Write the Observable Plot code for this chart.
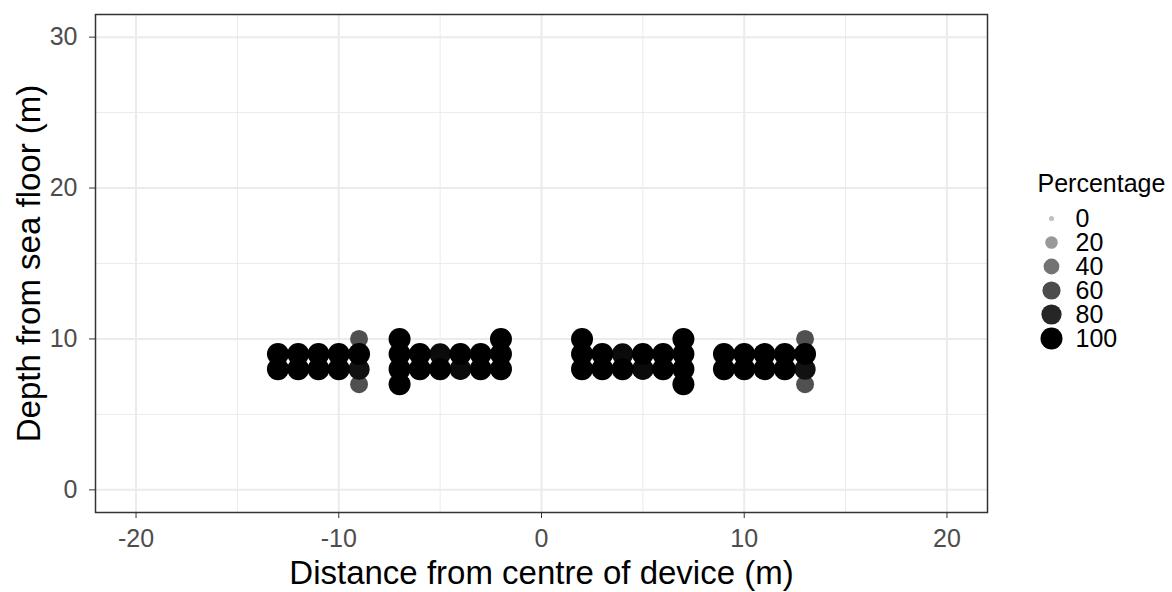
<!DOCTYPE html>
<html>
<head>
<meta charset="utf-8">
<script src="https://cdn.jsdelivr.net/npm/d3@7"></script>
<script src="https://cdn.jsdelivr.net/npm/@observablehq/plot@0.6"></script>
<style>
  html, body { margin: 0; padding: 0; background: #fff; }
  #wrap { position: relative; width: 1172px; height: 592px; }
  #main { position: absolute; left: 0; top: 0; }
  #legend { position: absolute; left: 1030px; top: 0; }
</style>
</head>
<body>
<div id="wrap"><div id="main"></div><div id="legend"></div></div>
<script>
// ---- data ----
const distance = [
  -13,-13,-12,-12,-11,-11,-10,-10,-9,-9,-9,-9,
  -7,-7,-7,-7,-6,-6,-5,-5,-4,-4,-3,-3,-2,-2,-2,
  2,2,2,3,3,4,4,5,5,6,6,7,7,7,7,
  9,9,10,10,11,11,12,12,13,13,13,13
];
const depth = [
  9,8,9,8,9,8,9,8,10,9,8,7,
  10,9,8,7,9,8,9,8,9,8,9,8,10,9,8,
  10,9,8,9,8,9,8,9,8,9,8,10,9,8,7,
  9,8,9,8,9,8,9,8,10,9,8,7
];
const percentage = [
  100,100,100,100,100,100,100,100,58,100,91,58,
  100,100,100,100,100,100,94,100,100,95,100,100,100,100,100,
  100,100,100,100,100,94,100,100,95,100,100,100,100,100,100,
  100,100,100,100,100,100,100,100,58,100,91,58
];
const xMajor = [-20, -10, 0, 10, 20];
const xMinor = [-15, -5, 5, 15];
const yMajor = [0, 10, 20, 30];
const yMinor = [5, 15, 25];
const legendValues = [0, 20, 40, 60, 80, 100];
const xTitle = "Distance from centre of device (m)";
const yTitle = "Depth from sea floor (m)";
const legendTitle = "Percentage";

// ---- shared scales ----
const font = "'Liberation Sans', Arial, Helvetica, sans-serif";
const rScale = {type: "sqrt", domain: [0, 100], range: [2.5, 11]};
const colorScale = {type: "linear", domain: [0, 100], range: ["#bfbfbf", "#000000"], interpolate: "rgb"};

const idx = d3.range(distance.length);

const main = Plot.plot({
  width: 1000,
  height: 592,
  marginLeft: 95,
  marginRight: 13,
  marginTop: 14,
  marginBottom: 80,
  style: {fontFamily: font, background: "#fff", color: "#000"},
  x: {domain: [-22, 22], axis: null},
  y: {domain: [-1.5, 31.5], axis: null},
  r: rScale,
  color: colorScale,
  marks: [
    Plot.ruleX(xMinor, {stroke: "#ebebeb", strokeWidth: 1}),
    Plot.ruleY(yMinor, {stroke: "#ebebeb", strokeWidth: 1}),
    Plot.ruleX(xMajor, {stroke: "#ebebeb", strokeWidth: 2}),
    Plot.ruleY(yMajor, {stroke: "#ebebeb", strokeWidth: 2}),
    Plot.dot(idx, {
      x: i => distance[i],
      y: i => depth[i],
      r: i => percentage[i],
      fill: i => percentage[i],
      sort: {channel: "r"}
    }),
    Plot.frame({stroke: "#333333", strokeWidth: 1.5}),
    Plot.axisX(xMajor, {anchor: "bottom", tickSize: 6, tickPadding: 11, fontSize: 25, stroke: "#333333", fill: "#4d4d4d", label: null, tickFormat: d => String(d)}),
    Plot.axisY(yMajor, {anchor: "left", tickSize: 6, tickPadding: 12, fontSize: 25, stroke: "#333333", fill: "#4d4d4d", label: null, tickFormat: d => String(d)}),
    Plot.text([xTitle], {frameAnchor: "bottom", lineAnchor: "bottom", dy: 71, fontSize: 33, fill: "#000"}),
    Plot.text([yTitle], {frameAnchor: "left", textAnchor: "middle", lineAnchor: "bottom", rotate: -90, dx: -56, fontSize: 33, fill: "#000"})
  ]
});
document.getElementById("main").appendChild(main);

const legend = Plot.plot({
  width: 142,
  height: 592,
  margin: 0,
  style: {fontFamily: font, background: "transparent", color: "#000"},
  x: {axis: null},
  y: {type: "point", domain: legendValues, range: [217, 339], padding: 0, axis: null},
  r: rScale,
  color: colorScale,
  marks: [
    Plot.dot(legendValues, {y: d => d, r: d => d, fill: d => d, frameAnchor: "left", dx: 21}),
    Plot.text(legendValues, {y: d => d, text: d => String(d), frameAnchor: "left", dx: 45, textAnchor: "start", fontSize: 25, fill: "#000"}),
    Plot.text([legendTitle], {frameAnchor: "top-left", lineAnchor: "bottom", dx: 7, dy: 191, textAnchor: "start", fontSize: 25, fill: "#000"})
  ]
});
document.getElementById("legend").appendChild(legend);
</script>
</body>
</html>
